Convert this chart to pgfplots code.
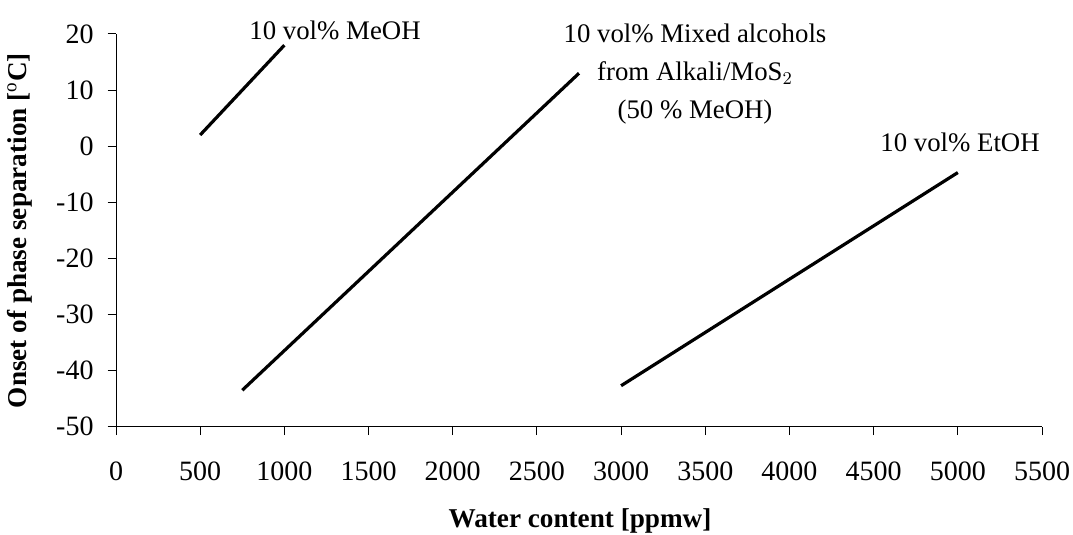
\documentclass[border=0pt]{standalone}
\usepackage{fontspec}
\setmainfont{Liberation Serif}
\usepackage{pgfplots}
\pgfplotsset{compat=1.18}

\begin{document}
\begin{tikzpicture}
\begin{axis}[
  name=ax,
  scale only axis,
  width=463pt, height=196.35pt,
  xmin=0, xmax=5500, ymin=-50, ymax=20,
  axis x line=bottom, axis y line=left,
  axis line style={-, line width=0.5pt},
  xtick={0,500,...,5500}, ytick={-50,-40,...,20},
  tick align=outside, tick pos=left,
  major tick length=4.2pt,
  tick style={line width=0.5pt, black},
  /pgf/number format/assume math mode=true,
  /pgf/number format/1000 sep={},
  ticklabel style={font=\fontsize{14}{16}\selectfont},
  xticklabel style={yshift=-10pt},
  yticklabel style={xshift=-3.5pt},
  clip=false,
]
% Onset of phase separation vs. water content
\addplot[black, line width=1.6pt] coordinates {(500,2) (1000,18)};
\addplot[black, line width=1.6pt] coordinates {(750,-43.5) (2750,13)};
\addplot[black, line width=1.6pt] coordinates {(3000,-42.7) (5000,-4.7)};

\begin{scope}[every node/.style={font=\fontsize{13.4}{16}\selectfont, inner sep=0pt}]
\node at (axis cs:1301,20.66) {10 vol\% MeOH};
\node at (axis cs:3439,20.1) {10 vol\% Mixed alcohols};
\node at (axis cs:3439,13.0) {from Alkali/MoS$_2$};
\node at (axis cs:3439,6.0) {(50 \% MeOH)};
\node at (axis cs:5013,0.66) {10 vol\% EtOH};
\node[font=\fontsize{13.6}{16}\selectfont\bfseries] at (axis cs:2756,-66.8) {Water content [ppmw]};
\node[font=\fontsize{13.6}{16}\selectfont\bfseries, rotate=90] at (axis cs:-570,-15.05) {Onset of phase separation [$^{\mathrm{o}}$C]};
\end{scope}
\end{axis}
\pgfresetboundingbox
\path ([xshift=-58pt,yshift=-54.15pt]ax.south west) rectangle ([xshift=15.5pt,yshift=17pt]ax.north east);
\end{tikzpicture}
\end{document}
